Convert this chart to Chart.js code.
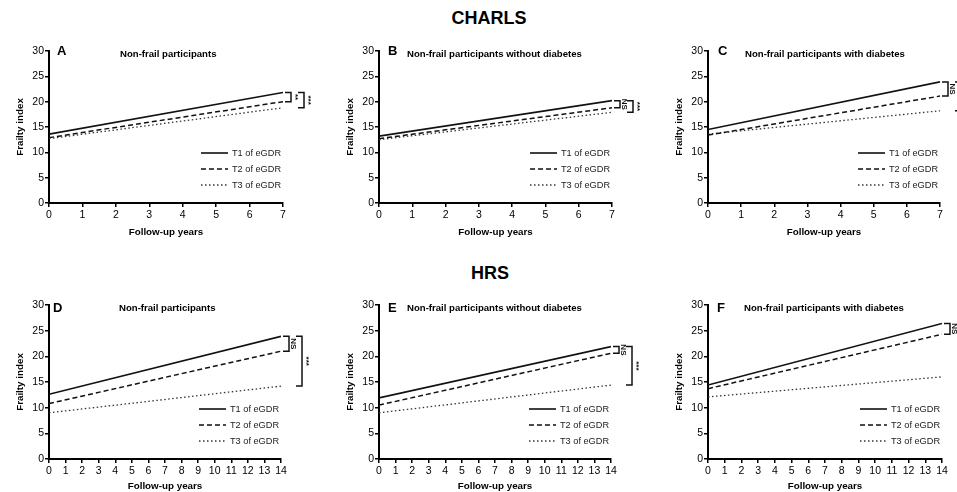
<!DOCTYPE html>
<html lang="en">
<head>
    <meta charset="UTF-8">
    <title>eGDR frailty trajectories</title>
    <style>
        body { margin: 0; background: #fff; width: 957px; height: 492px; overflow: hidden; position: relative; font-family: "Liberation Sans", Arial, sans-serif; }
        .cohort { position: absolute; width: 200px; text-align: center; font-weight: bold; font-size: 18px; line-height: 20px; color: #000; }
        canvas { position: absolute; }
    </style>
</head>
<body>
    <div class="cohort" style="left:389px; top:8px;">CHARLS</div>
    <div class="cohort" style="left:390px; top:263px;">HRS</div>

    <canvas id="pA" width="320" height="200" style="left:0px; top:40px;"></canvas>
    <canvas id="pB" width="320" height="200" style="left:320px; top:40px;"></canvas>
    <canvas id="pC" width="317" height="200" style="left:640px; top:40px;"></canvas>
    <canvas id="pD" width="320" height="205" style="left:0px; top:292px;"></canvas>
    <canvas id="pE" width="320" height="205" style="left:320px; top:292px;"></canvas>
    <canvas id="pF" width="317" height="205" style="left:640px; top:292px;"></canvas>

    <script src="https://cdn.jsdelivr.net/npm/chart.js"></script>
    <script>
        // follow-up years (start / end of each fitted line)
        const charlsYears = [0, 7];
        const hrsYears = [0, 14];
        const seriesNames = ['T1 of eGDR', 'T2 of eGDR', 'T3 of eGDR'];
        const yTicks = [0, 5, 10, 15, 20, 25, 30];

        // frailty index
        const aT1 = [13.6, 21.8], aT2 = [12.9, 20.0], aT3 = [12.7, 18.8];
        const bT1 = [13.2, 20.2], bT2 = [12.7, 18.8], bT3 = [12.5, 17.9];
        const cT1 = [14.5, 23.9], cT2 = [13.4, 21.1], cT3 = [13.6, 18.2];
        const dT1 = [12.6, 23.9], dT2 = [10.8, 21.0], dT3 = [9.0, 14.2];
        const eT1 = [11.9, 21.9], eT2 = [10.5, 20.6], eT3 = [9.0, 14.4];
        const fT1 = [14.4, 26.4], fT2 = [13.7, 24.3], fT3 = [12.1, 16.0];

        // significance: [T1 vs T2, T1 vs T3]
        const sigA = ['**', '***'];
        const sigB = ['NS', '***'];
        const sigC = ['NS', '***'];
        const sigD = ['NS', '***'];
        const sigE = ['NS', '***'];
        const sigF = ['NS', '***'];

        const FONT = '"Liberation Sans", Arial, sans-serif';
        Chart.defaults.font.family = FONT;
        Chart.defaults.color = '#000';

        const lineStyles = [
            { borderColor: '#111', borderWidth: 1.6, borderDash: [] },
            { borderColor: '#111', borderWidth: 1.5, borderDash: [5, 3] },
            { borderColor: '#333', borderWidth: 1.3, borderDash: [1.5, 2.5] }
        ];

        // letter, subtitle, inside legend and significance brackets
        const panelDecor = {
            id: 'panelDecor',
            afterDraw(chart, args, o) {
                const { ctx, chartArea: a, scales: { y } } = chart;
                ctx.save();
                ctx.fillStyle = '#000';
                ctx.textAlign = 'left';
                ctx.textBaseline = 'alphabetic';
                ctx.font = 'bold 13px ' + FONT;
                ctx.fillText(o.letter, a.left + o.letterDx, a.top + o.letterDy);
                ctx.font = 'bold 9.6px ' + FONT;
                ctx.fillText(o.title, a.left + o.titleDx, a.top + o.titleDy);

                chart.data.datasets.forEach((ds, i) => {
                    const yy = a.bottom - 50 + i * 16;
                    ctx.beginPath();
                    ctx.setLineDash(ds.borderDash);
                    ctx.lineWidth = ds.borderWidth;
                    ctx.strokeStyle = ds.borderColor;
                    ctx.moveTo(a.right - 82, yy);
                    ctx.lineTo(a.right - 55, yy);
                    ctx.stroke();
                    ctx.setLineDash([]);
                    ctx.font = '9.2px ' + FONT;
                    ctx.textBaseline = 'middle';
                    ctx.fillStyle = '#222';
                    ctx.fillText(ds.label, a.right - 51, yy);
                });

                const ends = chart.data.datasets.map(ds => y.getPixelForValue(ds.data[ds.data.length - 1].y));
                const bracket = (y1, y2, x1, x2, txt) => {
                    ctx.beginPath();
                    ctx.setLineDash([]);
                    ctx.lineWidth = 1.5;
                    ctx.strokeStyle = '#111';
                    ctx.moveTo(x1, y1);
                    ctx.lineTo(x2, y1);
                    ctx.lineTo(x2, y2);
                    ctx.lineTo(x1, y2);
                    ctx.stroke();
                    ctx.save();
                    ctx.translate(x2 + 4.5, (y1 + y2) / 2);
                    ctx.rotate(Math.PI / 2);
                    ctx.textAlign = 'center';
                    ctx.textBaseline = 'middle';
                    ctx.fillStyle = '#111';
                    ctx.font = 'bold 8px ' + FONT;
                    ctx.fillText(txt, 0, 0);
                    ctx.restore();
                };
                bracket(ends[0], ends[1], a.right + 2, a.right + 8, o.sig[0]);
                bracket(ends[0], ends[2], a.right + 15, a.right + 21, o.sig[1]);
                ctx.restore();
            }
        };

        function makePanel(id, years, t1, t2, t3, decor, lay) {
            const series = [t1, t2, t3];
            const datasets = series.map((vals, i) => ({
                label: seriesNames[i],
                data: years.map((yr, j) => ({ x: yr, y: vals[j] })),
                pointRadius: 0,
                fill: false,
                tension: 0,
                ...lineStyles[i]
            }));
            const axisGrid = { drawOnChartArea: false, drawTicks: true, tickLength: 4, color: '#000', lineWidth: 1.5 };
            return new Chart(document.getElementById(id), {
                type: 'line',
                data: { datasets },
                options: {
                    responsive: false,
                    animation: false,
                    devicePixelRatio: 1,
                    layout: { padding: lay.pad },
                    plugins: {
                        legend: { display: false },
                        tooltip: { enabled: false },
                        panelDecor: decor
                    },
                    scales: {
                        x: {
                            type: 'linear',
                            min: years[0],
                            max: years[years.length - 1],
                            grid: axisGrid,
                            border: { color: '#000', width: 2 },
                            ticks: { stepSize: 1, padding: 2, font: { size: 10.5 }, color: '#000', maxRotation: 0, autoSkip: false },
                            title: { display: true, text: 'Follow-up years', font: { size: 9.8, weight: 'bold' }, padding: { top: 0, bottom: lay.titlePad } },
                            afterFit: s => { s.height = lay.xh; }
                        },
                        y: {
                            min: 0,
                            max: 30,
                            grid: axisGrid,
                            border: { color: '#000', width: 2 },
                            afterBuildTicks: s => { s.ticks = yTicks.map(v => ({ value: v })); },
                            ticks: { padding: 1, font: { size: 10.5 }, color: '#000' },
                            title: { display: true, text: 'Frailty index', font: { size: 9.8, weight: 'bold' }, padding: { top: 4, bottom: 0 } },
                            afterFit: s => { s.width = 39; }
                        }
                    }
                },
                plugins: [panelDecor]
            });
        }

        const topRow = { xh: 37, titlePad: 2 };
        const botRow = { xh: 38, titlePad: 5 };

        makePanel('pA', charlsYears, aT1, aT2, aT3,
            { letter: 'A', title: 'Non-frail participants', sig: sigA, letterDx: 8, letterDy: 4, titleDx: 71, titleDy: 6 },
            { ...topRow, pad: { left: 10, right: 37, top: 11, bottom: 0 } });
        makePanel('pB', charlsYears, bT1, bT2, bT3,
            { letter: 'B', title: 'Non-frail participants without diabetes', sig: sigB, letterDx: 9, letterDy: 4, titleDx: 28, titleDy: 6 },
            { ...topRow, pad: { left: 20, right: 28, top: 11, bottom: 0 } });
        makePanel('pC', charlsYears, cT1, cT2, cT3,
            { letter: 'C', title: 'Non-frail participants with diabetes', sig: sigC, letterDx: 10, letterDy: 4, titleDx: 37, titleDy: 6 },
            { ...topRow, pad: { left: 29, right: 17, top: 11, bottom: 0 } });
        makePanel('pD', hrsYears, dT1, dT2, dT3,
            { letter: 'D', title: 'Non-frail participants', sig: sigD, letterDx: 4, letterDy: 7, titleDx: 70, titleDy: 6 },
            { ...botRow, pad: { left: 10, right: 39, top: 13, bottom: 0 } });
        makePanel('pE', hrsYears, eT1, eT2, eT3,
            { letter: 'E', title: 'Non-frail participants without diabetes', sig: sigE, letterDx: 9, letterDy: 7, titleDx: 28, titleDy: 6 },
            { ...botRow, pad: { left: 20, right: 29, top: 13, bottom: 0 } });
        makePanel('pF', hrsYears, fT1, fT2, fT3,
            { letter: 'F', title: 'Non-frail participants with diabetes', sig: sigF, letterDx: 9, letterDy: 7, titleDx: 36, titleDy: 6 },
            { ...botRow, pad: { left: 29, right: 15, top: 13, bottom: 0 } });
    </script>
</body>
</html>
